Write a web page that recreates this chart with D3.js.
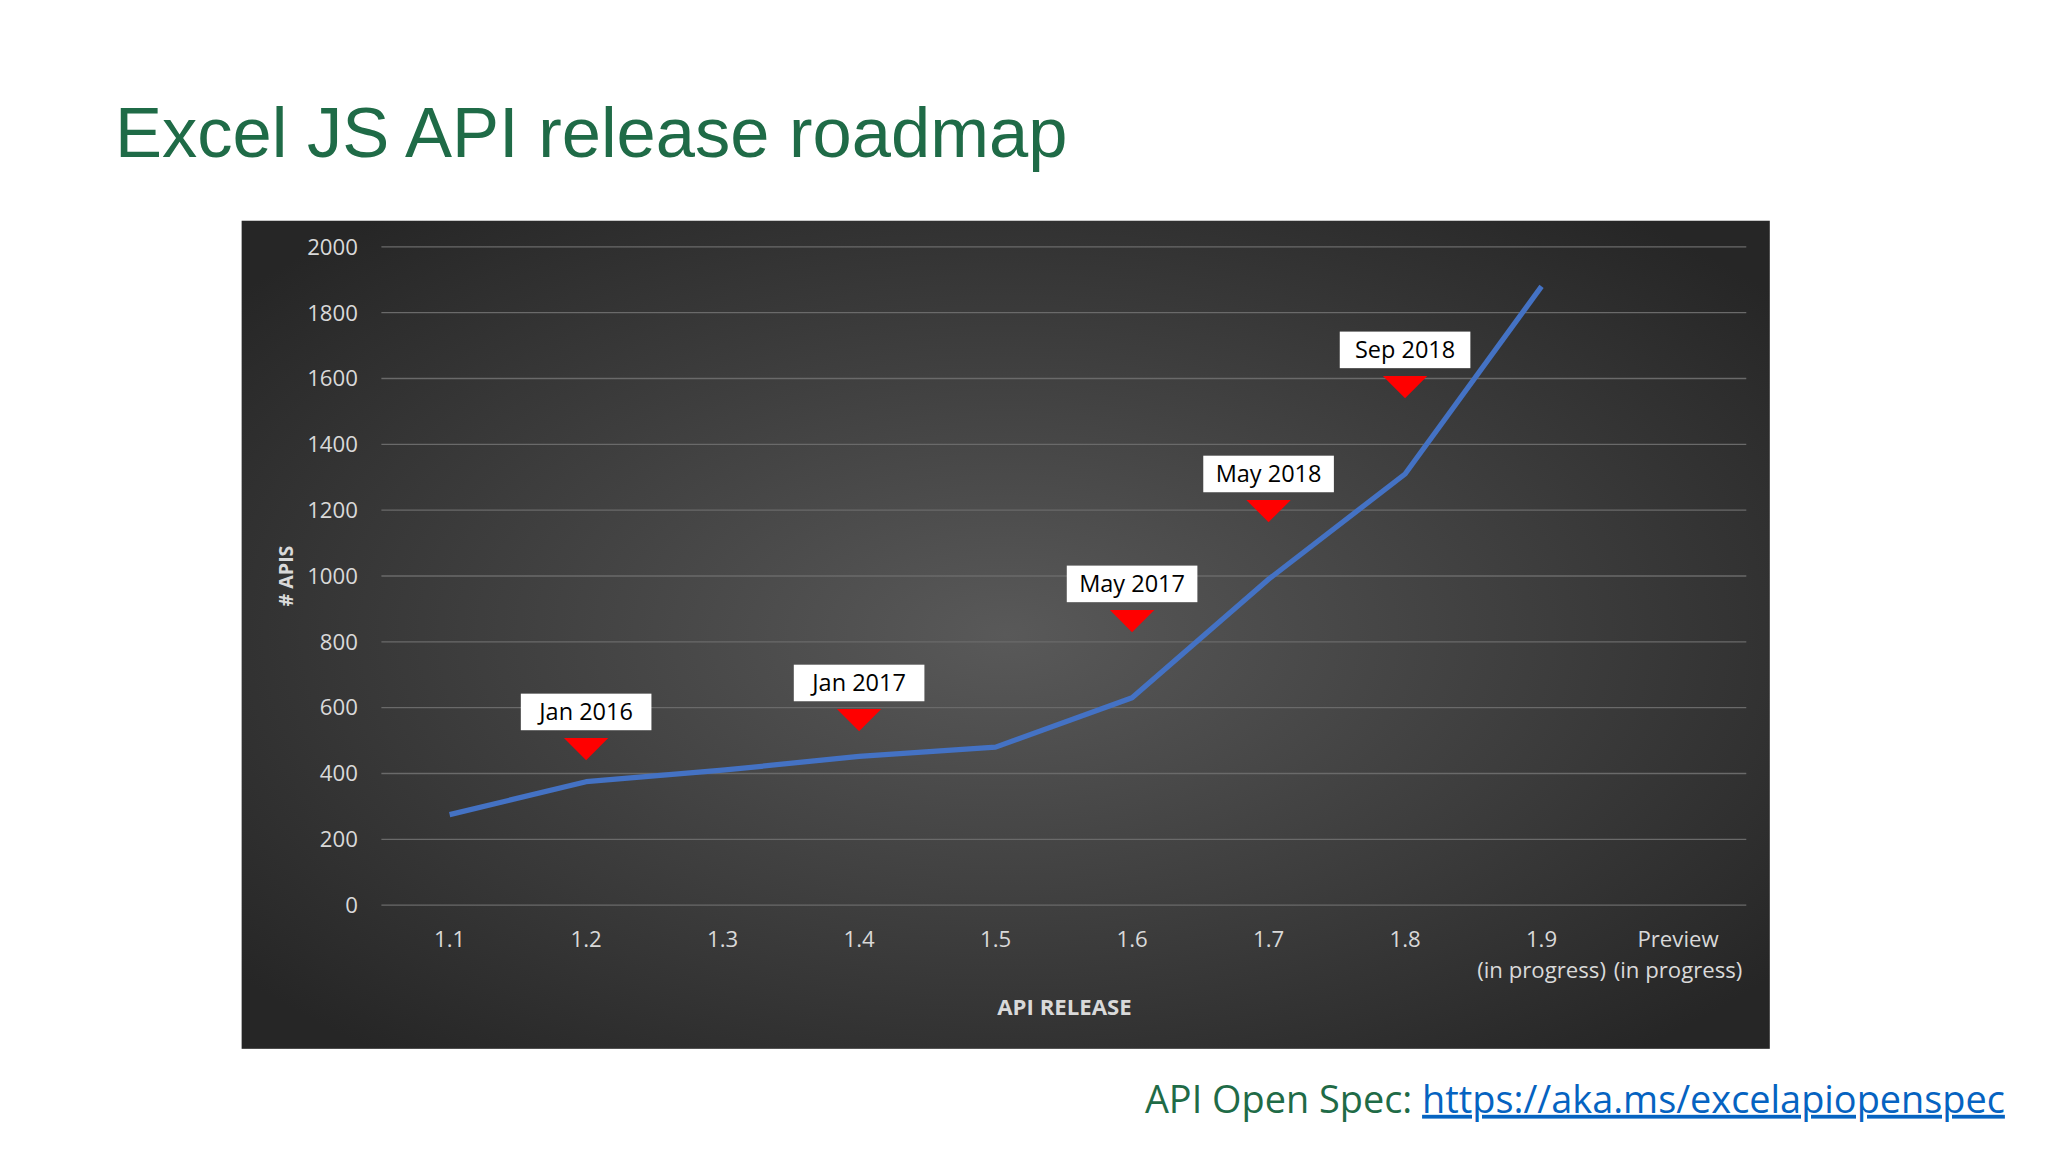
<!DOCTYPE html><html><head><meta charset="utf-8">
<script src="https://cdn.jsdelivr.net/npm/d3@7"></script>
<style>body{margin:0;background:#fff}svg{display:block}</style></head><body>
<script>
const categories=["1.1","1.2","1.3","1.4","1.5","1.6","1.7","1.8","1.9\n(in progress)","Preview\n(in progress)"];
const apiCounts=[275,375,410,452,480,630,990,1310,1880];
const milestoneCats=["1.2","1.4","1.6","1.7","1.8"];
const milestoneLabels=["Jan 2016","Jan 2017","May 2017","May 2018","Sep 2018"];
const milestoneLevels=[587,675,976,1310,1687];
const yTicks=[0,200,400,600,800,1000,1200,1400,1600,1800,2000];
const F="'Liberation Sans Narrow','Open Sans',sans-serif";
const svg=d3.select("body").append("svg").attr("width",2048).attr("height",1152).attr("viewBox","0 0 1568 882");
const defs=svg.append("defs");
const g=defs.append("radialGradient").attr("id","bg").attr("cx","50%").attr("cy","50%").attr("r","65%");
g.append("stop").attr("offset","0%").attr("stop-color","#595959");
g.append("stop").attr("offset","100%").attr("stop-color","#262626");
svg.append("text").attr("x",88).attr("y",120).attr("font-family","'Liberation Sans Narrow',sans-serif").attr("font-size",54).attr("fill","#1f6b47").text("Excel JS API release roadmap");
svg.append("rect").attr("x",185).attr("y",169).attr("width",1170).attr("height",634).attr("fill","url(#bg)");
const x=d3.scaleBand().domain(categories).range([292,1337]);
const y=d3.scaleLinear().domain([0,2000]).range([693,189]);
const cx=c=>x(categories.find(k=>k.split("\n")[0]===c))+x.bandwidth()/2;
svg.append("g").selectAll("line").data(yTicks).join("line").attr("x1",292).attr("x2",1337).attr("y1",d=>y(d)).attr("y2",d=>y(d)).attr("stroke","#6a6a6a").attr("stroke-width",1);
svg.append("g").selectAll("text").data(yTicks).join("text").attr("x",274).attr("y",d=>y(d)+6).attr("text-anchor","end").attr("font-family",F).attr("font-size",17).attr("fill","#d9d9d9").text(d=>d);
const xl=svg.append("g").selectAll("text").data(categories).join("text").attr("text-anchor","middle").attr("font-family",F).attr("font-size",17).attr("fill","#d9d9d9");
xl.each(function(d){const t=d3.select(this);d.split("\n").forEach((s,i)=>t.append("tspan").attr("x",x(d)+x.bandwidth()/2).attr("y",725+i*24).text(s));});
svg.append("text").attr("x",815).attr("y",777).attr("text-anchor","middle").attr("font-family",F).attr("font-weight","bold").attr("font-size",17).attr("fill","#d9d9d9").text("API RELEASE");
svg.append("text").attr("transform","translate(224,441) rotate(-90)").attr("text-anchor","middle").attr("font-family","'Open Sans',sans-serif").attr("font-weight","bold").attr("font-size",15).attr("fill","#d9d9d9").text("# APIS");
const line=d3.line().x((d,i)=>x(categories[i])+x.bandwidth()/2).y(d=>y(d));
svg.append("path").attr("d",line(apiCounts)).attr("fill","none").attr("stroke","#4472c4").attr("stroke-width",4).attr("stroke-linejoin","round");
milestoneCats.forEach((c,i)=>{const px=cx(c),py=y(milestoneLevels[i]);
 svg.append("rect").attr("x",px-50).attr("y",py-14).attr("width",100).attr("height",28).attr("fill","#fff");
 svg.append("text").attr("x",px).attr("y",py+6).attr("text-anchor","middle").attr("font-family",F).attr("font-size",18).attr("fill","#000").text(milestoneLabels[i]);
 svg.append("path").attr("d",`M${px-17},${py+20}L${px+17},${py+20}L${px},${py+37}Z`).attr("fill","#ff0000");
});
const ft=svg.append("text").attr("x",1535).attr("y",852).attr("text-anchor","end").attr("font-family",F).attr("font-size",29);
ft.append("tspan").attr("fill","#1f6b47").text("API Open Spec: ");
ft.append("tspan").attr("fill","#0563c1").attr("text-decoration","underline").text("https://aka.ms/excelapiopenspec");
</script></body></html>
